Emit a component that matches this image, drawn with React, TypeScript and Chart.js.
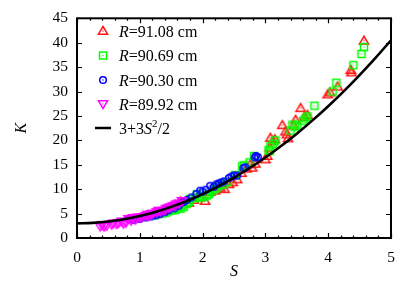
import React, { useEffect, useRef } from "react";
import { Chart, registerables } from "chart.js";

Chart.register(...registerables);

// R = 91.08 cm (red, triangles)
const redS = [1.65, 1.78, 1.86, 1.96, 2.04, 2.12, 2.20, 2.28, 2.35, 2.42, 2.48, 2.55, 2.62, 2.70, 2.76, 2.79, 2.84, 3.00, 3.03, 3.07, 3.08, 3.12, 3.15, 3.27, 3.32, 3.34, 3.36, 3.45, 3.48, 3.56, 3.62, 3.67, 3.99, 4.03, 4.15, 4.36, 4.37, 4.57];
const redK = [7.5, 7.2, 7.8, 8.3, 7.6, 9.4, 9.7, 10.3, 10.0, 11.0, 11.4, 12.0, 13.3, 14.2, 15.1, 14.4, 15.2, 16.1, 16.8, 18.5, 20.5, 19.8, 20.2, 23.1, 21.8, 21.2, 20.4, 23.0, 24.2, 26.6, 24.8, 25.2, 29.4, 29.8, 31.0, 34.4, 33.9, 40.4];

// R = 90.69 cm (green, squares)
const greenS = [1.22, 1.25, 1.30, 1.35, 1.38, 1.42, 1.45, 1.48, 1.52, 1.56, 1.58, 1.62, 1.65, 1.68, 1.70, 1.75, 1.78, 1.80, 1.88, 1.91, 1.95, 1.97, 2.03, 2.07, 2.10, 2.15, 2.18, 2.22, 2.25, 2.28, 2.34, 2.40, 2.52, 2.63, 2.66, 2.75, 2.82, 3.05, 3.07, 3.08, 3.12, 3.16, 3.40, 3.43, 3.47, 3.51, 3.60, 3.64, 3.67, 3.78, 4.07, 4.13, 4.40, 4.53, 4.57];
const greenK = [4.9, 4.7, 5.1, 5.0, 5.4, 5.2, 5.5, 5.6, 5.8, 5.7, 6.0, 6.2, 6.0, 6.7, 6.4, 7.0, 7.4, 8.0, 8.2, 9.0, 8.5, 8.3, 8.5, 8.7, 9.0, 9.6, 10.0, 10.2, 10.7, 10.9, 11.0, 11.5, 12.9, 14.7, 14.9, 15.5, 16.8, 18.0, 17.8, 18.8, 19.3, 20.0, 22.0, 23.2, 22.8, 23.2, 24.0, 24.5, 24.9, 27.1, 30.0, 31.8, 35.4, 37.7, 39.1];

// R = 90.30 cm (blue, circles)
const blueS = [0.82, 0.88, 0.90, 0.95, 1.00, 1.02, 1.08, 1.10, 1.15, 1.18, 1.22, 1.25, 1.28, 1.32, 1.35, 1.40, 1.42, 1.46, 1.50, 1.55, 1.58, 1.62, 1.66, 1.70, 1.75, 1.82, 1.90, 1.96, 2.00, 2.05, 2.12, 2.18, 2.22, 2.26, 2.30, 2.34, 2.42, 2.46, 2.50, 2.55, 2.65, 2.68, 2.83, 2.85, 2.88];
const blueK = [3.9, 4.0, 3.7, 4.1, 3.9, 4.3, 4.4, 4.2, 4.6, 4.4, 4.8, 4.6, 5.0, 4.9, 5.4, 5.3, 5.9, 5.7, 6.3, 6.1, 6.7, 6.6, 7.2, 7.4, 7.8, 8.3, 9.0, 9.7, 9.5, 9.9, 10.7, 10.5, 11.0, 11.2, 11.4, 11.6, 12.3, 12.6, 12.8, 12.8, 14.3, 14.5, 16.5, 16.8, 16.6];

// R = 89.92 cm (magenta, inverted triangles)
const magentaS = [0.37, 0.40, 0.43, 0.47, 0.55, 0.58, 0.63, 0.66, 0.71, 0.74, 0.78, 0.82, 0.86, 0.89, 0.93, 0.96, 1.00, 1.03, 1.09, 1.12, 1.14, 1.18, 1.21, 1.27, 1.30, 1.33, 1.38, 1.42, 1.46, 1.50, 1.54, 1.58, 1.62, 1.67];
const magentaK = [2.4, 2.7, 2.4, 2.5, 2.8, 3.0, 2.9, 3.1, 3.4, 3.0, 3.2, 3.9, 3.6, 4.1, 3.8, 4.2, 4.2, 4.3, 4.5, 4.8, 4.6, 4.9, 5.0, 5.3, 5.6, 5.5, 5.6, 6.0, 6.2, 6.4, 6.6, 6.9, 7.1, 7.6];

// 3 + 3 S^2 / 2 curve, tabulated
const curveS = [0, 0.25, 0.5, 0.75, 1, 1.25, 1.5, 1.75, 2, 2.25, 2.5, 2.75, 3, 3.25, 3.5, 3.75, 4, 4.25, 4.5, 4.75, 5];
const curveK = [3, 3.094, 3.375, 3.844, 4.5, 5.344, 6.375, 7.594, 9, 10.594, 12.375, 14.344, 16.5, 18.844, 21.375, 24.094, 27, 30.094, 33.375, 36.844, 40.5];

const xTicks = [0, 1, 2, 3, 4, 5];
const yTicks = [0, 5, 10, 15, 20, 25, 30, 35, 40, 45];
const radii = ["91.08", "90.69", "90.30", "89.92"];

const COLORS = ["#ff1010", "#00ff00", "#0000ff", "#ff00ff"];
const SHAPES = ["tri", "sq", "circ", "itri"];
const SERIF = "'Liberation Serif', 'DejaVu Serif', serif";

function drawShape(g: CanvasRenderingContext2D, shape: string, cx: number, cy: number, color: string) {
  g.save();
  g.strokeStyle = color;
  g.fillStyle = color;
  g.lineWidth = 1.5;
  g.beginPath();
  if (shape === "tri") {
    g.moveTo(cx, cy - 4.5);
    g.lineTo(cx + 4.6, cy + 3.2);
    g.lineTo(cx - 4.6, cy + 3.2);
    g.closePath();
  } else if (shape === "itri") {
    g.moveTo(cx, cy + 4.5);
    g.lineTo(cx + 4.6, cy - 3.2);
    g.lineTo(cx - 4.6, cy - 3.2);
    g.closePath();
  } else if (shape === "sq") {
    g.rect(cx - 3.5, cy - 3.5, 7, 7);
  } else {
    g.arc(cx, cy, 3.3, 0, Math.PI * 2);
  }
  g.stroke();
  g.fillRect(cx - 0.6, cy - 0.6, 1.2, 1.2);
  g.restore();
}

function makeMarker(shape: string, color: string) {
  const c = document.createElement("canvas");
  c.width = 14;
  c.height = 14;
  const g = c.getContext("2d")!;
  drawShape(g, shape, 7, 7, color);
  return c;
}

const framePlugin = {
  id: "framePlugin",
  afterDraw(chart: any) {
    const { ctx, chartArea } = chart;
    const { left, right, top, bottom } = chartArea;
    const xs = chart.scales.x;
    const ys = chart.scales.y;
    ctx.save();
    ctx.strokeStyle = "#000";
    ctx.lineWidth = 1.2;
    ctx.beginPath();
    for (let i = 0; i <= 25; i++) {
      const v = i * 0.2;
      const px = Math.round(xs.getPixelForValue(v)) + 0.5;
      const len = i % 5 === 0 ? 5 : 2.5;
      ctx.moveTo(px, bottom);
      ctx.lineTo(px, bottom - len);
      ctx.moveTo(px, top);
      ctx.lineTo(px, top + len);
    }
    yTicks.forEach((v) => {
      const py = Math.round(ys.getPixelForValue(v)) + 0.5;
      ctx.moveTo(left, py);
      ctx.lineTo(left + 5, py);
      ctx.moveTo(right, py);
      ctx.lineTo(right - 5, py);
    });
    ctx.stroke();
    ctx.lineWidth = 2;
    ctx.strokeRect(left, top, right - left, bottom - top);

    ctx.fillStyle = "#000";
    ctx.font = `italic 16px ${SERIF}`;
    ctx.textAlign = "center";
    ctx.textBaseline = "middle";
    ctx.fillText("S", (left + right) / 2, 272);
    ctx.save();
    ctx.translate(22, (top + bottom) / 2);
    ctx.rotate(-Math.PI / 2);
    ctx.fillText("K", 0, 0);
    ctx.restore();

    const rowY = [31, 55.5, 80, 104, 128];
    const markX = 103;
    const textX = 119;
    ctx.textAlign = "left";
    ctx.textBaseline = "alphabetic";
    radii.forEach((r, i) => {
      const y = rowY[i];
      drawShape(ctx, SHAPES[i], markX, y, COLORS[i]);
      ctx.fillStyle = "#000";
      ctx.font = `italic 16px ${SERIF}`;
      ctx.fillText("R", textX, y + 5.5);
      const w = ctx.measureText("R").width;
      ctx.font = `16px ${SERIF}`;
      ctx.fillText(`=${r} cm`, textX + w, y + 5.5);
    });
    const ly = rowY[4];
    ctx.lineWidth = 2.5;
    ctx.beginPath();
    ctx.moveTo(95, ly);
    ctx.lineTo(111, ly);
    ctx.stroke();
    ctx.font = `16px ${SERIF}`;
    let x = textX;
    ctx.fillText("3+3", x, ly + 5.5);
    x += ctx.measureText("3+3").width;
    ctx.font = `italic 16px ${SERIF}`;
    ctx.fillText("S", x, ly + 5.5);
    x += ctx.measureText("S").width;
    ctx.font = `11px ${SERIF}`;
    ctx.fillText("2", x, ly - 1.5);
    x += ctx.measureText("2").width;
    ctx.font = `16px ${SERIF}`;
    ctx.fillText("/2", x, ly + 5.5);
    ctx.restore();
  },
};

function pts(xs: number[], ys: number[]) {
  return xs.map((v, i) => ({ x: v, y: ys[i] }));
}

export default function App() {
  const ref = useRef<HTMLCanvasElement | null>(null);
  useEffect(() => {
    if (!ref.current) return;
    const series = [
      [redS, redK],
      [greenS, greenK],
      [blueS, blueK],
      [magentaS, magentaK],
    ];
    const datasets: any[] = series.map(([sx, sy], i) => ({
      type: "scatter",
      label: `R=${radii[i]} cm`,
      data: pts(sx, sy),
      pointStyle: makeMarker(SHAPES[i], COLORS[i]),
      pointRadius: 5,
      showLine: false,
      order: 5 - i,
    }));
    datasets.push({
      type: "line",
      label: "3+3S^2/2",
      data: pts(curveS, curveK),
      borderColor: "#000",
      borderWidth: 2.6,
      pointRadius: 0,
      cubicInterpolationMode: "monotone",
      fill: false,
      order: 0,
    });
    const chart = new Chart(ref.current, {
      type: "scatter",
      data: { datasets },
      options: {
        animation: false,
        responsive: false,
        devicePixelRatio: 1,
        layout: { padding: { top: 16, right: 18, left: 0, bottom: 0 } },
        plugins: { legend: { display: false }, tooltip: { enabled: false } },
        scales: {
          x: {
            type: "linear",
            min: 0,
            max: 5,
            afterBuildTicks: (s: any) => {
              s.ticks = xTicks.map((v) => ({ value: v }));
            },
            afterFit: (s: any) => {
              s.height = 48;
            },
            grid: { display: false, drawTicks: false },
            border: { display: false },
            ticks: { color: "#000", font: { family: SERIF, size: 15.5 }, padding: 11, maxRotation: 0 },
          },
          y: {
            type: "linear",
            min: 0,
            max: 45,
            afterBuildTicks: (s: any) => {
              s.ticks = yTicks.map((v) => ({ value: v }));
            },
            afterFit: (s: any) => {
              s.width = 77;
            },
            grid: { display: false, drawTicks: false },
            border: { display: false },
            ticks: { color: "#000", font: { family: SERIF, size: 15.5 }, padding: 9 },
          },
        },
      },
      plugins: [framePlugin],
    });
    return () => chart.destroy();
  }, []);
  return (
    <div style={{ position: "fixed", left: 0, top: 0, width: 409, height: 286, background: "#fff" }}>
      <canvas ref={ref} width={409} height={286} style={{ display: "block", width: 409, height: 286 }} />
    </div>
  );
}
